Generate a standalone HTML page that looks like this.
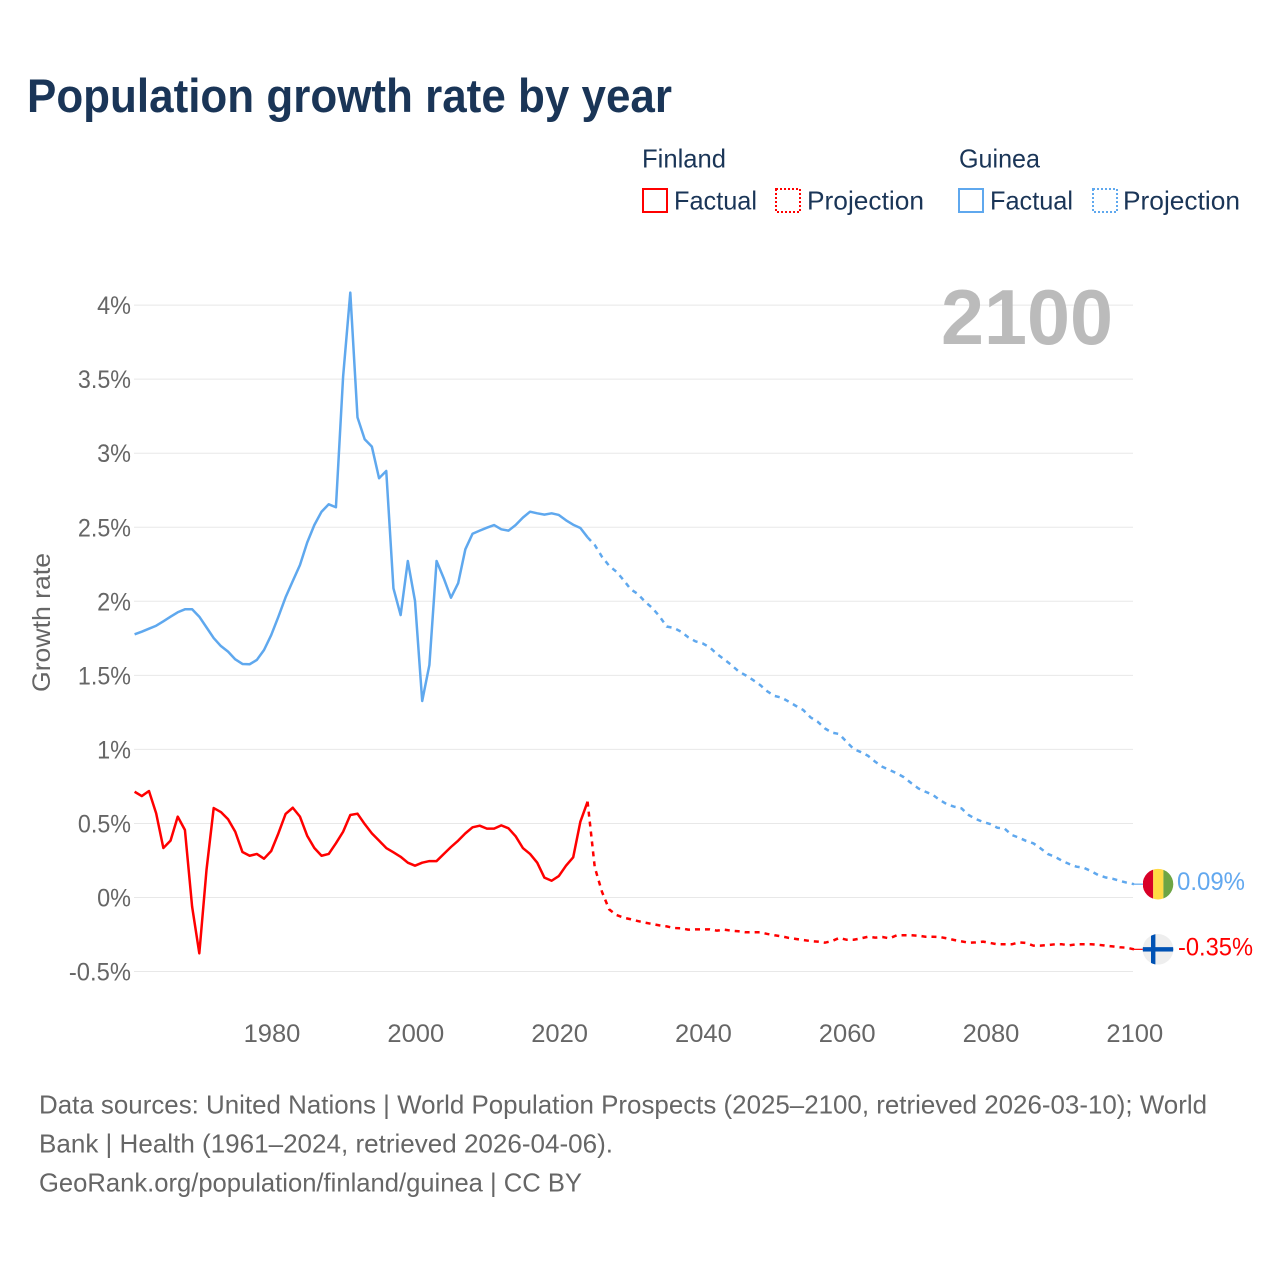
<!DOCTYPE html>
<html lang="en">
<head>
<meta charset="utf-8">
<title>Population growth rate by year</title>
<style>
html,body{margin:0;padding:0;background:#fff}
svg{display:block}
text{font-family:"Liberation Sans",sans-serif}
.tick{font-size:25px;fill:#666}
.legend{font-size:26px;fill:#1a3557}
.foot{font-size:26px;fill:#666}
</style>
</head>
<body>
<svg id="chart" xmlns="http://www.w3.org/2000/svg" width="1280" height="1280" viewBox="0 0 1280 1280">
  <rect x="0" y="0" width="1280" height="1280" fill="#fff"/>
  <text x="27" y="112" font-size="47" font-weight="700" fill="#1a3557" textLength="645" lengthAdjust="spacingAndGlyphs">Population growth rate by year</text>

  <g>
    <text class="legend" x="642" y="167.5" textLength="84" lengthAdjust="spacingAndGlyphs">Finland</text>
    <rect x="643" y="189" width="24" height="23" fill="none" stroke="#ff0000" stroke-width="2"/>
    <text class="legend" x="674" y="209.5" textLength="83" lengthAdjust="spacingAndGlyphs">Factual</text>
    <rect x="776" y="189" width="24" height="23" fill="none" stroke="#ff0000" stroke-width="2" stroke-dasharray="2 2"/>
    <text class="legend" x="807" y="209.5" textLength="117" lengthAdjust="spacingAndGlyphs">Projection</text>
    <text class="legend" x="959" y="167.5" textLength="81" lengthAdjust="spacingAndGlyphs">Guinea</text>
    <rect x="959" y="189" width="24" height="23" fill="none" stroke="#5fa8ee" stroke-width="2"/>
    <text class="legend" x="990" y="209.5" textLength="83" lengthAdjust="spacingAndGlyphs">Factual</text>
    <rect x="1093" y="189" width="24" height="23" fill="none" stroke="#5fa8ee" stroke-width="2" stroke-dasharray="2 2"/>
    <text class="legend" x="1123" y="209.5" textLength="117" lengthAdjust="spacingAndGlyphs">Projection</text>
  </g>

  <g id="grid"></g>
  <g id="yticks"></g>
  <g id="xticks"></g>

  <text transform="translate(50,692) rotate(-90)" font-size="25" fill="#666" textLength="139" lengthAdjust="spacingAndGlyphs">Growth rate</text>
  <text x="941" y="344" font-size="78" font-weight="700" fill="#bbbbbb" textLength="172" lengthAdjust="spacingAndGlyphs">2100</text>

  <g id="series"></g>

  <defs>
    <clipPath id="flag-clip-guinea"><circle id="guinea-clip-circle" cx="1158" cy="884" r="15.3"/></clipPath>
    <clipPath id="flag-clip-finland"><circle id="finland-clip-circle" cx="1158" cy="949" r="15.3"/></clipPath>
  </defs>
  <g id="flag-guinea" clip-path="url(#flag-clip-guinea)"></g>
  <g id="flag-finland" clip-path="url(#flag-clip-finland)"></g>

  <text id="label-guinea" x="1177" y="890" font-size="25" fill="#62a8ef" textLength="68" lengthAdjust="spacingAndGlyphs"></text>
  <text id="label-finland" x="1178" y="955" font-size="25" fill="#ff0000" textLength="75" lengthAdjust="spacingAndGlyphs"></text>

  <g>
    <text class="foot" x="39" y="1113.5" textLength="1168" lengthAdjust="spacingAndGlyphs">Data sources: United Nations | World Population Prospects (2025–2100, retrieved 2026-03-10); World</text>
    <text class="foot" x="39" y="1152.5" textLength="574" lengthAdjust="spacingAndGlyphs">Bank | Health (1961–2024, retrieved 2026-04-06).</text>
    <text class="foot" x="39" y="1191.5" textLength="543" lengthAdjust="spacingAndGlyphs">GeoRank.org/population/finland/guinea | CC BY</text>
  </g>
</svg>

<script>
const yTickValues = [-0.5, 0, 0.5, 1, 1.5, 2, 2.5, 3, 3.5, 4];
const yTickLabels = ["-0.5%", "0%", "0.5%", "1%", "1.5%", "2%", "2.5%", "3%", "3.5%", "4%"];
const xTickYears = [1980, 2000, 2020, 2040, 2060, 2080, 2100];
const xTickLabels = ["1980", "2000", "2020", "2040", "2060", "2080", "2100"];
const factualStartYear = 1961;
const projectionStartYear = 2025;
const finlandEndLabel = "-0.35%";
const guineaEndLabel = "0.09%";

const guineaFactual = [
  1.777,1.795,1.815,1.835,1.865,1.896,1.926,1.946,1.946,1.896,
  1.824,1.752,1.698,1.66,1.608,1.577,1.575,1.604,1.671,1.772,
  1.896,2.027,2.137,2.245,2.396,2.515,2.605,2.655,2.635,3.517,
  4.084,3.242,3.094,3.044,2.831,2.88,2.088,1.907,2.272,2.002,
  1.327,1.57,2.272,2.155,2.024,2.122,2.351,2.456,2.477,2.497,
  2.515,2.486,2.477,2.515,2.565,2.605,2.594,2.585,2.594,2.583,
  2.547,2.517,2.495,2.432
];
const guineaProjection = [
  2.38,2.301,2.24,2.2,2.144,2.081,2.049,1.997,1.955,1.899,
  1.83,1.82,1.795,1.757,1.73,1.716,1.689,1.644,1.608,1.57,
  1.527,1.5,1.469,1.435,1.392,1.361,1.349,1.322,1.293,1.266,
  1.217,1.187,1.142,1.113,1.104,1.052,1.003,0.982,0.957,0.917,
  0.883,0.861,0.839,0.812,0.773,0.737,0.714,0.694,0.658,0.629,
  0.613,0.602,0.557,0.53,0.51,0.496,0.471,0.465,0.422,0.404,
  0.382,0.366,0.332,0.294,0.275,0.248,0.226,0.208,0.201,0.179,
  0.152,0.136,0.127,0.113,0.1,0.09
];
const finlandFactual = [
  0.714,0.685,0.719,0.568,0.334,0.384,0.546,0.456,-0.062,-0.377,
  0.186,0.604,0.577,0.528,0.444,0.307,0.282,0.294,0.262,0.314,
  0.433,0.564,0.606,0.546,0.417,0.334,0.282,0.294,0.366,0.444,
  0.557,0.566,0.496,0.433,0.384,0.334,0.305,0.275,0.235,0.215,
  0.235,0.246,0.246,0.294,0.341,0.384,0.433,0.474,0.485,0.465,
  0.465,0.487,0.467,0.413,0.334,0.294,0.235,0.134,0.113,0.145,
  0.215,0.271,0.512,0.647
];
const finlandProjection = [
  0.204,0.039,-0.08,-0.118,-0.136,-0.147,-0.159,-0.17,-0.179,-0.188,
  -0.195,-0.206,-0.208,-0.217,-0.215,-0.215,-0.215,-0.224,-0.217,-0.224,
  -0.228,-0.235,-0.235,-0.235,-0.246,-0.255,-0.262,-0.273,-0.28,-0.287,
  -0.294,-0.298,-0.305,-0.294,-0.273,-0.285,-0.285,-0.276,-0.265,-0.271,
  -0.267,-0.276,-0.255,-0.255,-0.255,-0.258,-0.265,-0.265,-0.267,-0.276,
  -0.287,-0.296,-0.305,-0.303,-0.298,-0.307,-0.316,-0.316,-0.316,-0.303,
  -0.307,-0.325,-0.325,-0.321,-0.316,-0.316,-0.323,-0.316,-0.316,-0.316,
  -0.319,-0.325,-0.33,-0.336,-0.339,-0.35
];

const NS = "http://www.w3.org/2000/svg";
const RED = "#ff0000";
const BLUE = "#5fa8ee";
function xScale(year) { return 134.6 + (year - 1961) * (1134 - 134.6) / 139; }
function yScale(value) { return 897.5 - value * 148.1; }
function make(tag, parent, props) {
  const node = document.createElementNS(NS, tag);
  for (const key in props) node.setAttribute(key, props[key]);
  parent.appendChild(node);
  return node;
}
function pathFor(values, startYear) {
  return values.map(function (v, i) {
    return (i ? "L" : "M") + xScale(startYear + i).toFixed(2) + " " + yScale(v).toFixed(2);
  }).join(" ");
}
/* Advance width of a tick label in the reference typeface, at 25px. */
function tickLabelWidth(label) {
  let w = 0;
  for (const ch of label) {
    if (ch === "%") w += 19.7;
    else if (ch === ".") w += 5;
    else if (ch === "-") w += 9;
    else w += 14.2;
  }
  return w;
}

const grid = document.getElementById("grid");
const yticks = document.getElementById("yticks");
const xticks = document.getElementById("xticks");
const series = document.getElementById("series");

yTickValues.forEach(function (v, i) {
  const line = make("line", grid, { x1: 134, x2: 1133, y1: yScale(v), y2: yScale(v), stroke: "#e8e8e8", "stroke-width": 1 });
  
  
  const w = tickLabelWidth(yTickLabels[i]);
  const label = make("text", yticks, { x: 131 - w, y: yScale(v) + 9, "class": "tick", textLength: w, lengthAdjust: "spacingAndGlyphs" });
  
  
  label.textContent = yTickLabels[i];
});

xTickYears.forEach(function (year, i) {
  const w = tickLabelWidth(xTickLabels[i]);
  const label = make("text", xticks, { x: xScale(year) + 0.8 - w / 2, y: 1042, "class": "tick", textLength: w, lengthAdjust: "spacingAndGlyphs" });
  
  
  label.textContent = xTickLabels[i];
});

function drawCountry(name, color, factual, projection, flagX) {
  const solid = make("path", series, { d: pathFor(factual, factualStartYear), fill: "none", stroke: color, "stroke-width": 2.5, "stroke-linejoin": "round" });
  
  
  const joined = [factual[factual.length - 1]].concat(projection);
  const dashed = make("path", series, { d: pathFor(joined, projectionStartYear - 1), fill: "none", stroke: color, "stroke-width": 2.5, "stroke-dasharray": "5 5", "stroke-linejoin": "round" });
  
  
  const endValue = projection[projection.length - 1];
  const connector = make("line", series, { x1: xScale(2100), x2: flagX, y1: yScale(endValue), y2: yScale(endValue), stroke: color, "stroke-width": 1.2 });
  
  
}
drawCountry("guinea", BLUE, guineaFactual, guineaProjection, 1144);
drawCountry("finland", RED, finlandFactual, finlandProjection, 1144);

/* Flags and end labels follow the final values. */
const guineaY = yScale(guineaProjection[guineaProjection.length - 1]);
const finlandY = yScale(finlandProjection[finlandProjection.length - 1]);
document.getElementById("guinea-clip-circle").setAttribute("cy", guineaY);
document.getElementById("finland-clip-circle").setAttribute("cy", finlandY);

const flagG = document.getElementById("flag-guinea");
const guineaStripeColors = ["#d80027", "#ffda44", "#6da544"];
guineaStripeColors.forEach(function (c, i) {
  const stripe = make("rect", flagG, { x: 1143 + i * 10.2, y: guineaY - 16, width: 10.2, height: 32, fill: c });
  
  
});

const flagF = document.getElementById("flag-finland");
const finBg = make("rect", flagF, { x: 1142, y: finlandY - 16, width: 32, height: 32, fill: "#eeeeee" });


const finH = make("rect", flagF, { x: 1142, y: finlandY - 2.2, width: 32, height: 4.4, fill: "#0052b4" });


const finV = make("rect", flagF, { x: 1151, y: finlandY - 16, width: 4.4, height: 32, fill: "#0052b4" });



const guineaLabel = document.getElementById("label-guinea");
guineaLabel.textContent = guineaEndLabel;
guineaLabel.setAttribute("y", guineaY + 6);
const finlandLabel = document.getElementById("label-finland");
finlandLabel.textContent = finlandEndLabel;
finlandLabel.setAttribute("y", finlandY + 6);
</script>
</body>
</html>
